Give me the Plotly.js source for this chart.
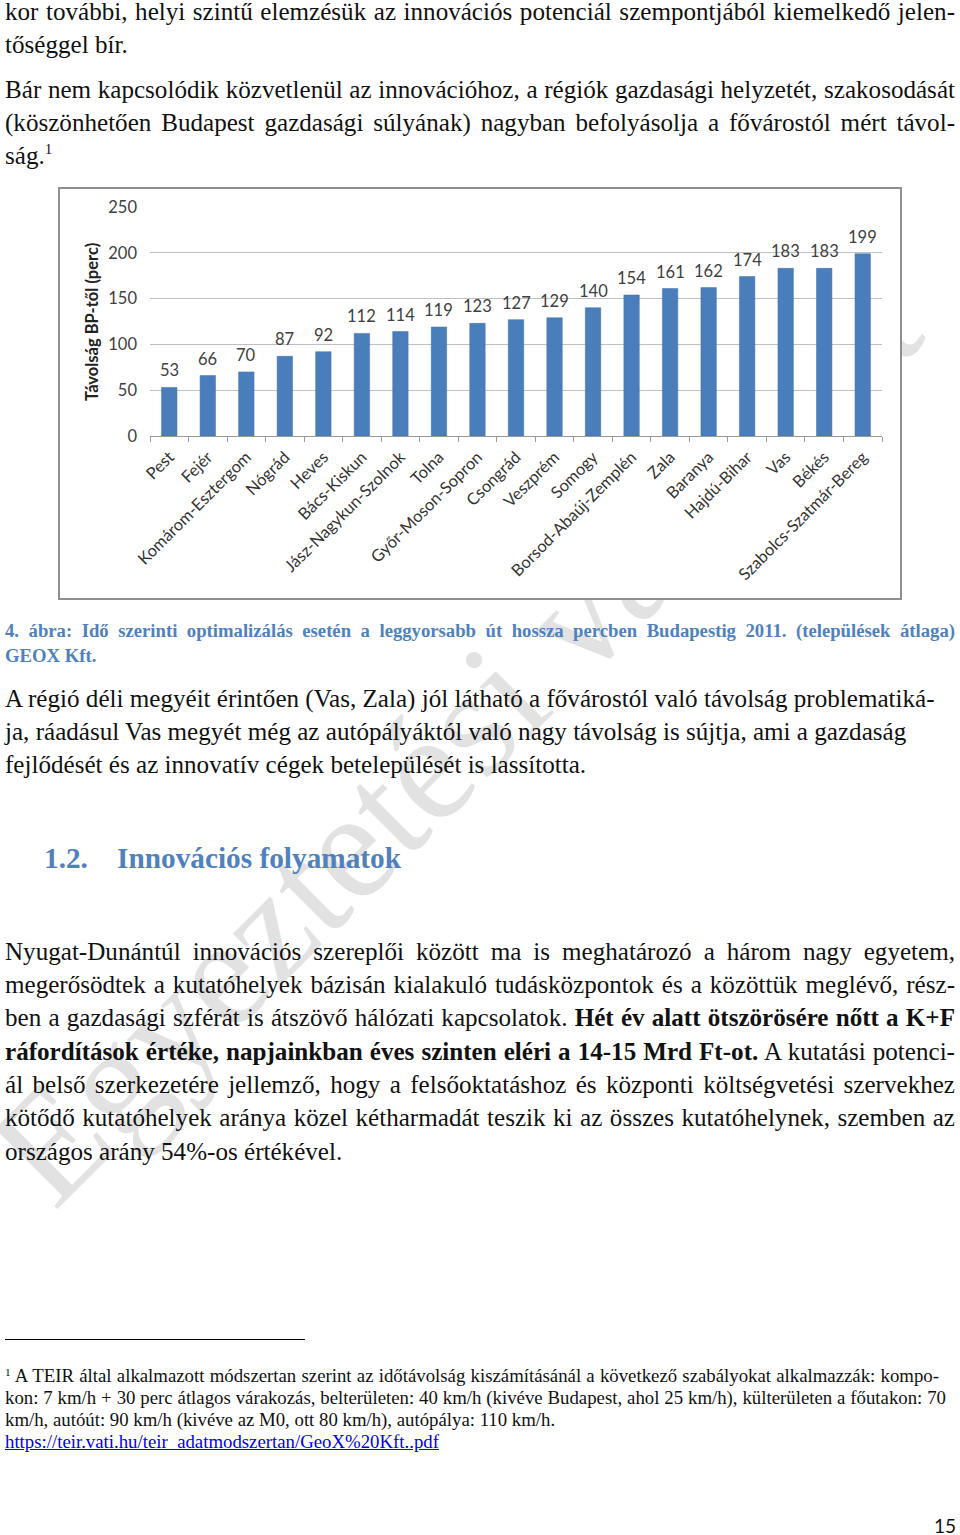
<!DOCTYPE html>
<html>
<head>
<meta charset="utf-8">
<script src="https://cdn.plot.ly/plotly-3.0.1.min.js"></script>
<style>
  html, body { margin:0; padding:0; background:#fff; }
  body { width:960px; height:1535px; position:relative; overflow:hidden; }
  .ln { position:absolute; left:5px; width:950px; font-family:"Liberation Serif","Times New Roman",serif; color:#111; white-space:normal; }
  .j { text-align:justify; text-align-last:justify; }
  .body { font-size:25.1px; height:33px; line-height:33px; }
  .cap { font-size:18.7px; font-weight:bold; color:#4f81bd; height:24px; line-height:24px; }
  .fn { font-size:18.8px; height:22px; line-height:22px; }
  sup { font-size:0.6em; vertical-align:top; position:relative; top:-0.35em; }
  #wm { position:absolute; left:72px; top:1076px; font-family:"Liberation Serif",serif; font-size:154px; line-height:154px; color:rgba(185,185,185,0.42); white-space:nowrap; transform-origin:0 100%; transform:rotate(-45deg); z-index:0; }
  #chartbox { position:absolute; left:58px; top:187px; width:844px; height:413px; box-sizing:border-box; border:2px solid #8f8f8f; background:#fff; z-index:2; }
  #chart { position:absolute; left:0; top:0; width:840px; height:409px; }
  .txt { position:relative; z-index:3; }
  .hd { position:absolute; top:840px; font-family:"Liberation Serif",serif; font-weight:bold; color:#4f81bd; font-size:29.3px; line-height:36px; white-space:nowrap; }
  #sep { position:absolute; left:5px; top:1339px; width:300px; height:1px; background:#000; }
  #pg { position:absolute; left:934px; top:1514px; font-family:"Lato","Open Sans",sans-serif; font-size:19px; color:#111; }
  a { color:#0000ee; text-decoration:underline; }
</style>
</head>
<body>
<div id="wm">Egyeztetési változat</div>

<div class="txt">
  <div class="ln body j" style="top:-5.5px">kor további, helyi szintű elemzésük az innovációs potenciál szempontjából kiemelkedő jelen-</div>
  <div class="ln body" style="top:27.5px">tőséggel bír.</div>
  <div class="ln body j" style="top:72.5px">Bár nem kapcsolódik közvetlenül az innovációhoz, a régiók gazdasági helyzetét, szakosodását</div>
  <div class="ln body j" style="top:105.5px">(köszönhetően Budapest gazdasági súlyának) nagyban befolyásolja a fővárostól mért távol-</div>
  <div class="ln body" style="top:138.5px">ság.<sup>1</sup></div>

  <div class="ln cap j" style="top:619px">4. ábra: Idő szerinti optimalizálás esetén a leggyorsabb út hossza percben Budapestig 2011. (települések átlaga)</div>
  <div class="ln cap" style="top:644px">GEOX Kft.</div>

  <div class="ln body" style="top:681.5px">A régió déli megyéit érintően (Vas, Zala) jól látható a fővárostól való távolság problematiká-</div>
  <div class="ln body" style="top:714.5px">ja, ráadásul Vas megyét még az autópályáktól való nagy távolság is sújtja, ami a gazdaság</div>
  <div class="ln body" style="top:747.5px">fejlődését és az innovatív cégek betelepülését is lassította.</div>

  <div class="hd" style="left:44px">1.2.</div>
  <div class="hd" style="left:117px">Innovációs folyamatok</div>

  <div class="ln body j" style="top:934.5px">Nyugat-Dunántúl innovációs szereplői között ma is meghatározó a három nagy egyetem,</div>
  <div class="ln body j" style="top:967.5px">megerősödtek a kutatóhelyek bázisán kialakuló tudásközpontok és a közöttük meglévő, rész-</div>
  <div class="ln body j" style="top:1001px">ben a gazdasági szférát is átszövő hálózati kapcsolatok. <b>Hét év alatt ötszörösére nőtt a K+F</b></div>
  <div class="ln body j" style="top:1034.5px"><b>ráfordítások értéke, napjainkban éves szinten eléri a 14-15 Mrd Ft-ot.</b> A kutatási potenci-</div>
  <div class="ln body j" style="top:1067.5px">ál belső szerkezetére jellemző, hogy a felsőoktatáshoz és központi költségvetési szervekhez</div>
  <div class="ln body j" style="top:1101px">kötődő kutatóhelyek aránya közel kétharmadát teszik ki az összes kutatóhelynek, szemben az</div>
  <div class="ln body" style="top:1134.5px">országos arány 54%-os értékével.</div>

  <div id="sep"></div>
  <div class="ln fn" style="top:1365px; width:934px; text-align:justify; text-align-last:justify;"><sup>1</sup> A TEIR által alkalmazott módszertan szerint az időtávolság kiszámításánál a következő szabályokat alkalmazzák: kompo-</div>
  <div class="ln fn" style="top:1387px; width:941px; text-align:justify; text-align-last:justify;">kon: 7 km/h + 30 perc átlagos várakozás, belterületen: 40 km/h (kivéve Budapest, ahol 25 km/h), külterületen a főutakon: 70</div>
  <div class="ln fn" style="top:1409px">km/h, autóút: 90 km/h (kivéve az M0, ott 80 km/h), autópálya: 110 km/h.</div>
  <div class="ln fn" style="top:1431px"><a href="#">https://teir.vati.hu/teir_adatmodszertan/GeoX%20Kft..pdf</a></div>

  <div id="pg">15</div>
</div>

<div id="chartbox"><div id="chart"></div></div>

<script>
// Chart data
var counties = ["Pest","Fejér","Komárom-Esztergom","Nógrád","Heves","Bács-Kiskun","Jász-Nagykun-Szolnok","Tolna","Győr-Moson-Sopron","Csongrád","Veszprém","Somogy","Borsod-Abaúj-Zemplén","Zala","Baranya","Hajdú-Bihar","Vas","Békés","Szabolcs-Szatmár-Bereg"];
var minutes = [53,66,70,87,92,112,114,119,123,127,129,140,154,161,162,174,183,183,199];
var yTicks = [0,50,100,150,200,250];
var yTitle = "Távolság BP-től (perc)";

var fontFam = "Lato, 'Open Sans', sans-serif";

var trace = {
  type: "bar",
  x: counties,
  y: minutes,
  marker: { color: "#4a7ebb", line: { color: "#3f6fa8", width: 0.5 } },
  hoverinfo: "x+y"
};

var annotations = counties.map(function (c, i) {
  return {
    x: c, y: minutes[i], xref: "x", yref: "y",
    text: String(minutes[i]), showarrow: false,
    yanchor: "bottom", yshift: 5,
    font: { family: fontFam, size: 16.5, color: "#404040" }
  };
});
annotations.push({
  xref: "paper", yref: "paper", x: -0.08, y: 0.5,
  text: "<b>" + yTitle + "</b>", textangle: -90, showarrow: false,
  xanchor: "center", yanchor: "middle",
  font: { family: fontFam, size: 16.5, color: "#222" }
});

var layout = {
  width: 840, height: 409,
  margin: { l: 90, r: 18, t: 18, b: 162 },
  paper_bgcolor: "#fff", plot_bgcolor: "#fff",
  showlegend: false,
  bargap: 0.6,
  font: { family: fontFam, color: "#404040" },
  xaxis: {
    type: "category",
    tickangle: -45,
    tickfont: { family: fontFam, size: 16.5, color: "#333" },
    showline: true, linecolor: "#9a9a9a", linewidth: 1,
    ticks: "outside", tickson: "boundaries", ticklen: 5, tickcolor: "#9a9a9a",
    ticklabelstandoff: 4,
    showgrid: false, automargin: false
  },
  yaxis: {
    range: [0, 250],
    tickvals: yTicks,
    ticktext: yTicks.map(String),
    tickfont: { family: fontFam, size: 16.5, color: "#404040" },
    showgrid: true, gridcolor: "#c0c0c0", gridwidth: 1,
    zeroline: false, showline: false, ticks: "", ticklabelstandoff: 12,
    automargin: false
  },
  annotations: annotations
};

Plotly.newPlot("chart", [trace], layout, { displayModeBar: false, staticPlot: true });
</script>
</body>
</html>
